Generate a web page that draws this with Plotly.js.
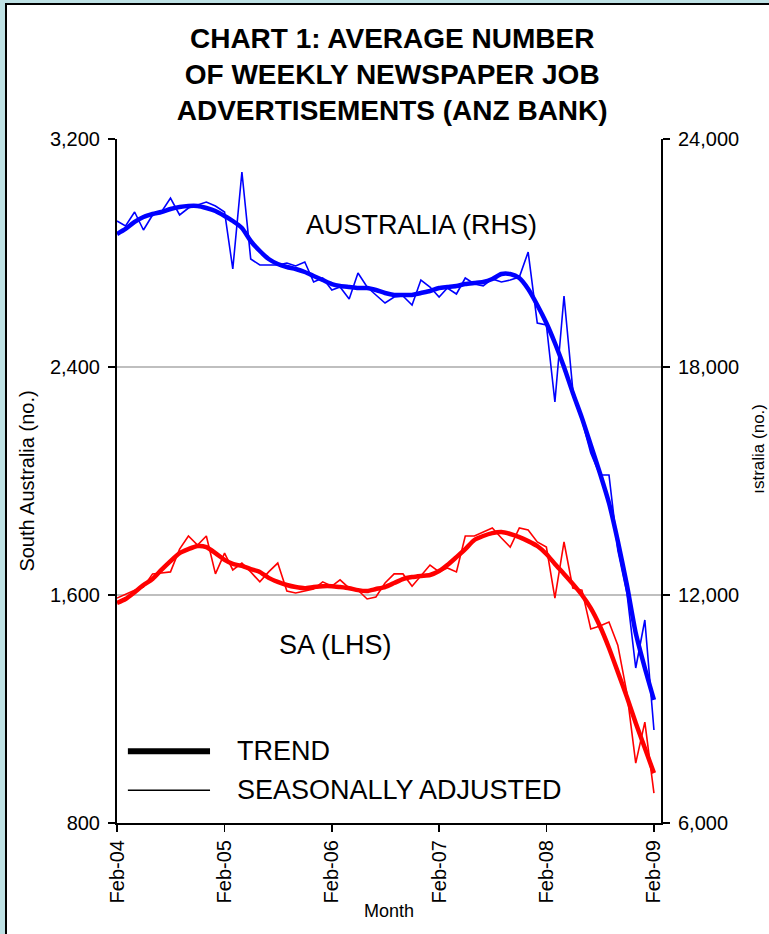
<!DOCTYPE html>
<html>
<head>
<meta charset="utf-8">
<script src="https://cdn.plot.ly/plotly-3.0.1.min.js"></script>
<style>
  html, body { margin: 0; padding: 0; }
  body { width: 769px; height: 934px; background: #bee1e4; position: relative; overflow: hidden; }
  #panel { position: absolute; left: 5px; top: 3px; right: 0; bottom: 0; background: #fff;
           border-left: 2px solid #000; border-top: 2px solid #000; }
  #chart { position: absolute; left: 0; top: 0; width: 769px; height: 934px; }
</style>
</head>
<body>
<div id="panel"></div>
<div id="chart"></div>
<script>
// months, Feb-04 to Feb-09
const months = [
  '2004-02','2004-03','2004-04','2004-05','2004-06','2004-07','2004-08','2004-09','2004-10','2004-11','2004-12',
  '2005-01','2005-02','2005-03','2005-04','2005-05','2005-06','2005-07','2005-08','2005-09','2005-10','2005-11','2005-12',
  '2006-01','2006-02','2006-03','2006-04','2006-05','2006-06','2006-07','2006-08','2006-09','2006-10','2006-11','2006-12',
  '2007-01','2007-02','2007-03','2007-04','2007-05','2007-06','2007-07','2007-08','2007-09','2007-10','2007-11','2007-12',
  '2008-01','2008-02','2008-03','2008-04','2008-05','2008-06','2008-07','2008-08','2008-09','2008-10','2008-11','2008-12',
  '2009-01','2009-02'
];

// South Australia (LHS)
const saSeasAdj = [1589,1603,1617,1628,1674,1677,1681,1761,1807,1775,1807,1674,1747,1688,1712,1681,1646,1681,1712,1614,
  1607,1614,1621,1646,1631,1653,1624,1617,1586,1593,1642,1674,1674,1631,1667,1705,1681,1695,1681,1807,
  1807,1821,1835,1800,1768,1835,1828,1786,1768,1589,1786,1624,1617,1481,1491,1505,1424,1256,1010,1154,905];
const saTrend = [1572,1586,1610,1635,1656,1688,1719,1747,1761,1772,1768,1747,1723,1709,1702,1691,1681,1660,1646,1635,
  1628,1624,1628,1631,1631,1628,1624,1617,1614,1621,1628,1642,1656,1663,1667,1670,1684,1705,1733,1761,
  1793,1807,1817,1821,1814,1803,1789,1772,1744,1709,1674,1639,1600,1554,1491,1414,1330,1242,1151,1063,975];

// Australia (RHS)
const ausSeasAdj = [21842,21711,22079,21605,22000,22079,22447,22000,22184,22263,22342,22237,22079,20579,23132,20842,20684,20684,20684,20737,
  20658,20763,20237,20342,20026,20105,19789,20474,20105,19895,19684,19842,19868,19632,20289,20105,19842,20079,19921,20342,
  20184,20132,20316,20237,20289,20368,21026,19158,19105,17079,19868,17395,16605,15737,15158,15158,13184,12053,10079,11342,8447];
const ausTrend = [21500,21632,21816,21947,22026,22079,22158,22211,22237,22237,22184,22105,21974,21842,21658,21316,21053,20842,20711,20632,
  20579,20500,20395,20289,20184,20132,20105,20079,20079,20026,19947,19895,19895,19895,19947,20000,20079,20105,20132,20184,
  20211,20237,20316,20447,20447,20342,20053,19632,19158,18632,18000,17316,16658,15947,15211,14421,13421,12263,11000,10079,9237];

const xRange = ['2004-02-01', '2009-02-25'];
const font = 'Liberation Sans, Arial, sans-serif';

const traces = [
  { x: months, y: saSeasAdj, type: 'scatter', mode: 'lines', yaxis: 'y',
    line: { color: '#ff0000', width: 1.6 }, showlegend: false },
  { x: months, y: saTrend, type: 'scatter', mode: 'lines', yaxis: 'y',
    line: { color: '#ff0000', width: 4.5, shape: 'spline', smoothing: 0.6 }, showlegend: false },
  { x: months, y: ausSeasAdj, type: 'scatter', mode: 'lines', yaxis: 'y2',
    line: { color: '#0000ff', width: 1.6 }, showlegend: false },
  { x: months, y: ausTrend, type: 'scatter', mode: 'lines', yaxis: 'y2',
    line: { color: '#0000ff', width: 4.5, shape: 'spline', smoothing: 0.6 }, showlegend: false }
];

const layout = {
  width: 769, height: 934,
  margin: { l: 117, r: 108, t: 139, b: 111 },
  paper_bgcolor: 'rgba(0,0,0,0)',
  plot_bgcolor: '#ffffff',
  font: { family: font, color: '#000', size: 20 },
  showlegend: false,
  title: {
    text: 'CHART 1: AVERAGE NUMBER<br>OF WEEKLY NEWSPAPER JOB<br>ADVERTISEMENTS (ANZ BANK)',
    font: { family: font, size: 28, weight: 'bold' },
    x: 0.51, xref: 'container', xanchor: 'center',
    y: 0.949, yref: 'container', yanchor: 'top'
  },
  xaxis: {
    type: 'date', range: xRange,
    tick0: '2004-02-01', dtick: 'M12', tickformat: '%b-%y', tickangle: -90,
    ticks: 'outside', ticklen: 7, tickwidth: 1.5, tickcolor: '#000',
    showline: true, linecolor: '#000', linewidth: 2,
    showgrid: false, zeroline: false,
    tickfont: { size: 20 },
    title: { text: 'Month', font: { size: 18 }, standoff: 2 }
  },
  xaxis2: {
    type: 'date', range: xRange, overlaying: 'x',
    tick0: '2004-02-01', dtick: 'M12',
    ticks: 'inside', ticklen: 6, tickwidth: 1.5, tickcolor: '#000',
    showticklabels: false, showgrid: false, zeroline: false, showline: false
  },
  yaxis: {
    range: [800, 3200], dtick: 800, tickformat: ',d',
    ticks: 'outside', ticklen: 7, tickwidth: 1.5, tickcolor: '#000',
    showline: true, linecolor: '#000', linewidth: 2,
    showgrid: true, gridcolor: '#bfbfbf', gridwidth: 1.5, zeroline: false,
    ticklabelstandoff: 4,
    title: { text: 'South Australia (no.)', font: { size: 20 }, standoff: 10 }
  },
  yaxis2: {
    range: [6000, 24000], dtick: 6000, tickformat: ',d',
    overlaying: 'y', side: 'right',
    ticks: 'outside', ticklen: 7, tickwidth: 1.5, tickcolor: '#000',
    showline: true, linecolor: '#000', linewidth: 2,
    showgrid: false, zeroline: false, ticklabelstandoff: 4
  },
  yaxis3: {
    range: [800, 3200], dtick: 800, overlaying: 'y', side: 'left',
    ticks: 'inside', ticklen: 6, tickwidth: 1.5, tickcolor: '#000',
    showticklabels: false, showgrid: false, zeroline: false, showline: false
  },
  yaxis4: {
    range: [6000, 24000], dtick: 6000, overlaying: 'y', side: 'right',
    ticks: 'inside', ticklen: 6, tickwidth: 1.5, tickcolor: '#000',
    showticklabels: false, showgrid: false, zeroline: false, showline: false
  },
  shapes: [
    // legend samples
    { type: 'line', xref: 'paper', yref: 'paper', x0: 0.020, x1: 0.171, y0: 0.105, y1: 0.105,
      line: { color: '#000', width: 6 } },
    { type: 'line', xref: 'paper', yref: 'paper', x0: 0.020, x1: 0.171, y0: 0.048, y1: 0.048,
      line: { color: '#000', width: 1.5 } }
  ],
  annotations: [
    { text: 'TREND', xref: 'paper', yref: 'paper', x: 0.217, y: 0.105, xanchor: 'left', yanchor: 'middle',
      showarrow: false, font: { size: 27 } },
    { text: 'SEASONALLY ADJUSTED', xref: 'paper', yref: 'paper', x: 0.217, y: 0.048, xanchor: 'left', yanchor: 'middle',
      showarrow: false, font: { size: 27 } },
    { text: 'AUSTRALIA (RHS)', xref: 'paper', yref: 'paper', x: 0.559, y: 0.874, xanchor: 'center', yanchor: 'middle',
      showarrow: false, font: { size: 27 } },
    { text: 'SA (LHS)', xref: 'paper', yref: 'paper', x: 0.401, y: 0.260, xanchor: 'center', yanchor: 'middle',
      showarrow: false, font: { size: 27 } },
    { text: 'ıstralia (no.)', xref: 'paper', yref: 'paper', x: 1.18, y: 0.547, xanchor: 'center', yanchor: 'middle',
      textangle: -90, showarrow: false, font: { size: 17 } }
  ]
};

Plotly.newPlot('chart', traces, layout, { staticPlot: true, displayModeBar: false });
</script>
</body>
</html>
